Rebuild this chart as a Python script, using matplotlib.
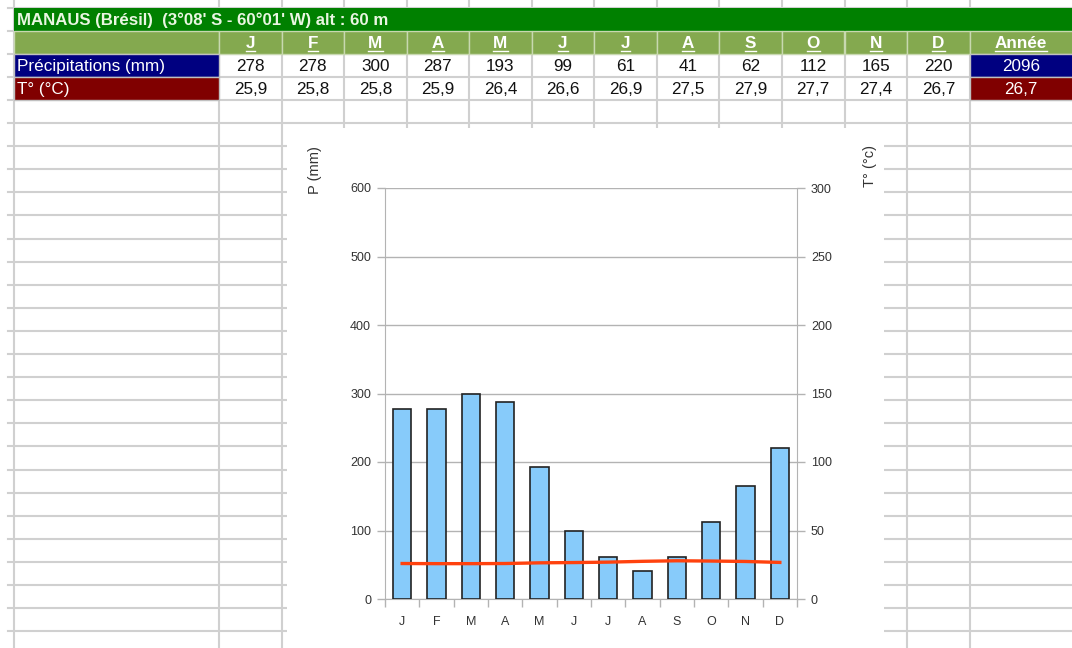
import matplotlib
matplotlib.use("Agg")
import matplotlib.pyplot as plt
from matplotlib.patches import Rectangle
from matplotlib.lines import Line2D

plt.rcParams["font.family"] = ["Liberation Sans", "DejaVu Sans"]

# data
title = "MANAUS (Brésil)  (3°08' S - 60°01' W) alt : 60 m"
months = ["J", "F", "M", "A", "M", "J", "J", "A", "S", "O", "N", "D"]
precip = [278, 278, 300, 287, 193, 99, 61, 41, 62, 112, 165, 220]
temps = [25.9, 25.8, 25.8, 25.9, 26.4, 26.6, 26.9, 27.5, 27.9, 27.7, 27.4, 26.7]
precip_total = 2096
temp_mean = 26.7
row_labels = ["Précipitations (mm)", "T° (°C)"]
year_label = "Année"


def fr(v):
    return f"{v:.1f}".replace(".", ",")


W, H = 1072, 648
fig = plt.figure(figsize=(W / 100, H / 100), dpi=100)

# spreadsheet layer, in pixel coordinates
bg = fig.add_axes([0, 0, 1, 1])
bg.set_xlim(0, W)
bg.set_ylim(H, 0)
bg.axis("off")

grid_c = "#d0d0d0"
row_top, row_h = 7.5, 23.1
col_w, last_w = 62.55, 103
col_x = [14, 219] + [219 + col_w * k for k in range(1, 13)]
rows_y = [row_top + row_h * k for k in range(30)]

for x in col_x:
    bg.add_line(Line2D([x, x], [0, H], color=grid_c, lw=1.5, zorder=1))
for y in rows_y:
    bg.add_line(Line2D([8, W], [y, y], color=grid_c, lw=1.5, zorder=1))

# title row
bg.add_patch(Rectangle((14, rows_y[0]), W - 14, row_h, fc="#008000", ec="none", zorder=2))
bg.text(17, rows_y[0] + row_h / 2 + 1, title, color="#eaf6e2", fontsize=12.1,
        fontweight="bold", va="center", ha="left", zorder=3)

# header row
hdr_c = "#84a94f"
bg.add_patch(Rectangle((14, rows_y[1]), col_x[1] - 14, row_h, fc=hdr_c, ec="#c8d8b0", lw=1, zorder=2))
hdr_texts = []
for i, m in enumerate(months + [year_label]):
    x0 = col_x[i + 1]
    w = col_w if i < 12 else last_w
    bg.add_patch(Rectangle((x0, rows_y[1]), w if i < 12 else W - x0 + 2, row_h,
                           fc=hdr_c, ec="#c8d8b0", lw=1, zorder=2))
    t = bg.text(x0 + w / 2, rows_y[1] + row_h / 2 + 1, m, color="white", fontsize=12.3,
                fontweight="bold", ha="center", va="center", zorder=3)
    hdr_texts.append(t)

# data rows
label_bg = ["#000080", "#800000"]
values = [[str(v) for v in precip], [fr(v) for v in temps]]
totals = [str(precip_total), fr(temp_mean)]
for r in range(2):
    yt = rows_y[2 + r]
    bg.add_patch(Rectangle((14, yt), col_x[1] - 14, row_h, fc=label_bg[r], ec="#c0c0c0", lw=1, zorder=2))
    bg.text(17, yt + row_h / 2 + 1, row_labels[r], color="white", fontsize=12.3,
            ha="left", va="center", zorder=3)
    for i, v in enumerate(values[r]):
        bg.text(col_x[i + 1] + col_w / 2, yt + row_h / 2 + 1, v, color="#111111",
                fontsize=12.3, ha="center", va="center", zorder=3)
    bg.add_patch(Rectangle((col_x[13], yt), W - col_x[13] + 2, row_h, fc=label_bg[r],
                           ec="#c0c0c0", lw=1, zorder=2))
    bg.text(col_x[13] + last_w / 2, yt + row_h / 2 + 1, totals[r], color="white",
            fontsize=12.3, ha="center", va="center", zorder=3)

# chart area
bg.add_patch(Rectangle((287, 128), 884 - 287, H - 128 + 5, fc="white", ec="none", zorder=4))

ax_l, ax_r, ax_t, ax_b = 385, 797, 188, 599
ax = fig.add_axes([ax_l / W, 1 - ax_b / H, (ax_r - ax_l) / W, (ax_b - ax_t) / H])
ax.set_zorder(5)
axis_c = "#b3b3b3"
txt_c = "#333333"

x = list(range(len(months)))
ax.bar(x, precip, width=0.53, color="#87cbfa", edgecolor="#222222", linewidth=1.2, zorder=3)
ax.set_xlim(-0.5, 11.5)
ax.set_ylim(0, 600)
ax.set_yticks(range(0, 601, 100))
ax.yaxis.grid(True, color=axis_c, lw=1)
ax.set_axisbelow(True)
ax.set_xticks(x)
ax.set_xticklabels(months)
ax.set_xticks([i - 0.5 for i in range(13)], minor=True)
ax.tick_params(axis="x", which="major", length=0, pad=12, labelsize=9, labelcolor=txt_c)
ax.tick_params(axis="x", which="minor", length=6, color=axis_c, width=1)
ax.tick_params(axis="y", length=6, color=axis_c, width=1, pad=4, labelsize=9, labelcolor=txt_c)
for s in ["left", "right", "bottom"]:
    ax.spines[s].set_color(axis_c)
ax.spines["top"].set_visible(False)
ax.set_ylabel("P (mm)", fontsize=10.5, color=txt_c, rotation=90)
ax.yaxis.set_label_coords(-0.152, 1.044)

ax2 = ax.twinx()
ax2.plot(x, temps, color="#ff420e", lw=2.4, zorder=4)
ax2.set_ylim(0, 300)
ax2.set_yticks(range(0, 301, 50))
ax2.tick_params(axis="y", length=6, color=axis_c, width=1, pad=4, labelsize=9, labelcolor=txt_c)
for s in ["left", "right", "bottom", "top"]:
    ax2.spines[s].set_visible(False)
ax2.set_ylabel("T° (°c)", fontsize=10.5, color=txt_c, rotation=90)
ax2.yaxis.set_label_coords(1.16, 1.054)

# underline header labels
fig.canvas.draw()
rend = fig.canvas.get_renderer()
for t in hdr_texts:
    bb = t.get_window_extent(rend)
    yline = bb.y0
    fig.add_artist(Line2D([bb.x0 / W, bb.x1 / W], [yline / H, yline / H],
                          color="white", lw=1, transform=fig.transFigure, zorder=6))

fig.savefig("out.png", dpi=100)
